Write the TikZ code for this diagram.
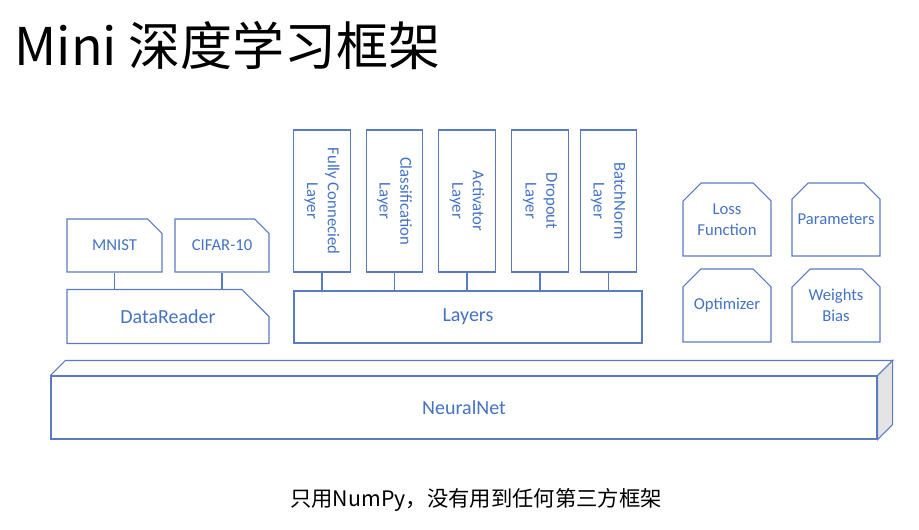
\documentclass[tikz,border=0pt]{standalone}
\usepackage{fontspec}
\setmainfont{Carlito}
\newfontfamily\cjk{Noto Sans CJK SC}
\usepackage{xcolor}
\usetikzlibrary{calc,shapes.misc,positioning}
\definecolor{netblue}{HTML}{4472C4}
\definecolor{edgeblue}{HTML}{5B7BC0}
\definecolor{sidegray}{HTML}{E4E4E4}

\begin{document}
\begin{tikzpicture}[
    x=0.75pt, y=-0.75pt,
    box/.style={rectangle, draw=edgeblue, line width=0.8pt, text=netblue, align=center, inner sep=0pt, font=\fontsize{12.5}{15.5}\selectfont},
    bigbox/.style={box, font=\fontsize{15}{18}\selectfont},
    snipbox/.style={chamfered rectangle, chamfered rectangle corners=north east, chamfered rectangle sep=#1},
    capbox/.style={box, chamfered rectangle, chamfered rectangle corners={north west, north east}, chamfered rectangle xsep=5.5pt, chamfered rectangle ysep=8pt, minimum width=66pt, minimum height=54.75pt},
    vbox/.style={box, rotate=-90, minimum width=106.5pt, minimum height=42.5pt},
    link/.style={draw=edgeblue, line width=0.8pt}
]
    \useasboundingbox (0,0) rectangle (919,529);

    \node[anchor=west, font=\cjk\fontsize{39}{44}\selectfont] (title) at (10,46) {Mini 深度学习框架};

    % data
    \node[box, snipbox=6.75pt, minimum width=71.25pt, minimum height=39.75pt] (mnist) at (114.5,245.5) {MNIST};
    \node[box, snipbox=6.75pt, minimum width=70.5pt, minimum height=39.75pt] (cifar) at (222,245.5) {CIFAR-10};
    \node[bigbox, snipbox=15pt, minimum width=151.5pt, minimum height=39.75pt] (reader) at (168,316.5) {DataReader};

    \draw[link] (mnist.south) -- (mnist.south |- reader.north);
    \draw[link] (cifar.south) -- (cifar.south |- reader.north);

    % layers
    \node[vbox] (fc) at (322,201) {Fully Connecied\\Layer};
    \node[vbox] (cls) at (394.5,201) {Classification\\Layer};
    \node[vbox] (act) at (467,201) {Activator\\Layer};
    \node[vbox] (drop) at (540,201) {Dropout\\Layer};
    \node[vbox] (bn) at (608.5,201) {BatchNorm\\Layer};
    \node[bigbox, minimum width=261pt, minimum height=39pt] (layers) at (468,317) {Layers};

    \foreach \l in {fc,cls,act,drop,bn}
        \draw[link] (\l.east) -- (\l.east |- layers.north);

    % others
    \node[capbox] (loss) at (727,219.5) {Loss\\Function};
    \node[capbox] (params) at (836,219.5) {Parameters};
    \node[capbox] (optim) at (727,305.5) {Optimizer};
    \node[capbox] (weights) at (836,305.5) {Weights\\Bias};

    % neural net
    \node[bigbox, minimum width=619.5pt, minimum height=47.25pt] (net) at (464,407.5) {NeuralNet};
    \draw[link] (net.north west) -- ++(15,-15) -- ([shift={(15,-15)}]net.north east) -- (net.north east);
    \draw[link, fill=sidegray] (net.north east) -- ++(15,-15) -- ([shift={(15,-15)}]net.south east) -- (net.south east) -- cycle;

    \node[font=\cjk\fontsize{16}{18}\selectfont] (note) at (476,500) {只用NumPy，没有用到任何第三方框架};
\end{tikzpicture}
\end{document}
